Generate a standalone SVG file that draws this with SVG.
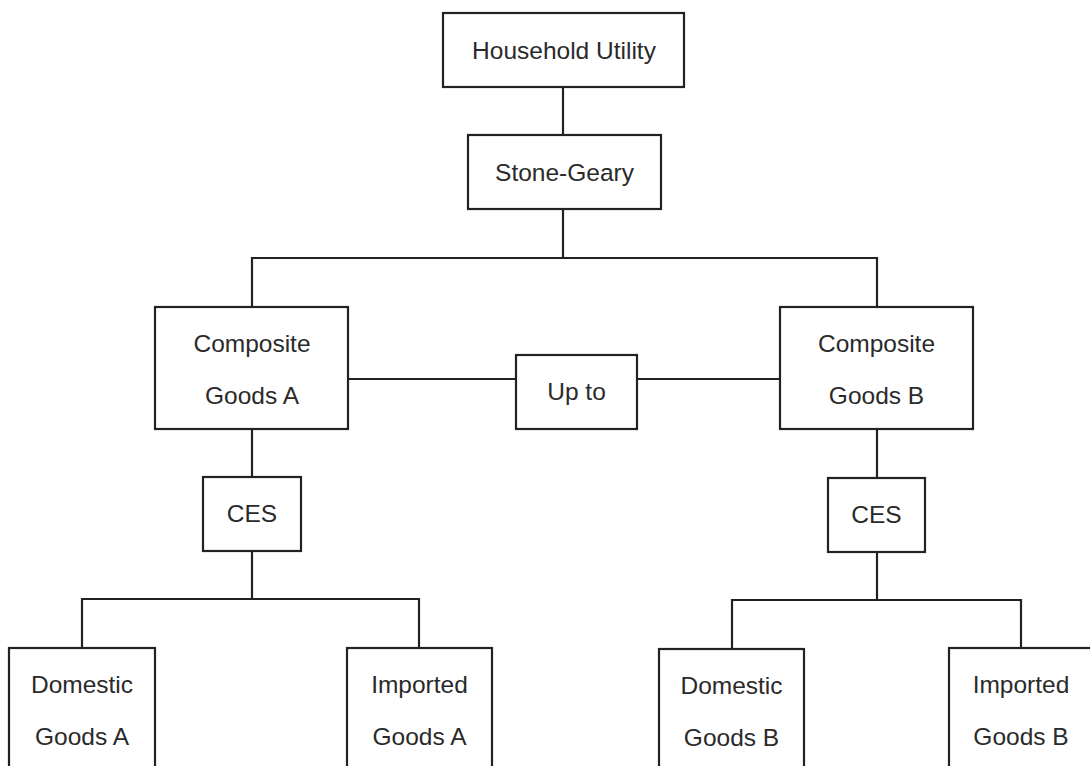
<svg xmlns="http://www.w3.org/2000/svg" width="1090" height="766" viewBox="0 0 1090 766">
<style>
.box{fill:#fff;stroke:#222;stroke-width:2.2}
.ln{fill:none;stroke:#222;stroke-width:2.2}
text{font-family:"Liberation Sans",Arial,sans-serif;font-size:24.5px;fill:#2a2a2a;text-anchor:middle}
</style>
<rect width="1090" height="766" fill="#fff"/>
<g id="connectors">
<line class="ln" x1="563" y1="87" x2="563" y2="135"/>
<path class="ln" d="M563 209 V258 M252 307 V258 H877 V307"/>
<line class="ln" x1="348" y1="379" x2="516" y2="379"/>
<line class="ln" x1="637" y1="379" x2="780" y2="379"/>
<line class="ln" x1="252" y1="429" x2="252" y2="477"/>
<line class="ln" x1="877" y1="429" x2="877" y2="478"/>
<path class="ln" d="M252 551 V599 M82 648 V599 H419 V648"/>
<path class="ln" d="M877 552 V600 M732 649 V600 H1021 V648"/>
</g>
<g id="household-utility">
<rect class="box" x="443" y="13" width="241" height="74"/>
<text x="564" y="59">Household Utility</text>
</g>
<g id="stone-geary">
<rect class="box" x="468" y="135" width="193" height="74"/>
<text x="564.5" y="181">Stone-Geary</text>
</g>
<g id="composite-a">
<rect class="box" x="155" y="307" width="193" height="122"/>
<text x="252" y="352">Composite</text>
<text x="252" y="404">Goods A</text>
</g>
<g id="up-to">
<rect class="box" x="516" y="355" width="121" height="74"/>
<text x="576.5" y="400">Up to</text>
</g>
<g id="composite-b">
<rect class="box" x="780" y="307" width="193" height="122"/>
<text x="876.5" y="352">Composite</text>
<text x="876.5" y="404">Goods B</text>
</g>
<g id="ces-a">
<rect class="box" x="203" y="477" width="98" height="74"/>
<text x="252" y="522">CES</text>
</g>
<g id="ces-b">
<rect class="box" x="828" y="478" width="97" height="74"/>
<text x="876.5" y="523">CES</text>
</g>
<g id="domestic-a">
<rect class="box" x="9" y="648" width="146" height="130"/>
<text x="82" y="693">Domestic</text>
<text x="82" y="745">Goods A</text>
</g>
<g id="imported-a">
<rect class="box" x="347" y="648" width="145" height="130"/>
<text x="419.5" y="693">Imported</text>
<text x="419.5" y="745">Goods A</text>
</g>
<g id="domestic-b">
<rect class="box" x="659" y="649" width="145" height="130"/>
<text x="731.5" y="694">Domestic</text>
<text x="731.5" y="746">Goods B</text>
</g>
<g id="imported-b">
<rect class="box" x="949" y="648" width="145" height="130"/>
<text x="1021" y="693">Imported</text>
<text x="1021" y="745">Goods B</text>
</g>
</svg>
